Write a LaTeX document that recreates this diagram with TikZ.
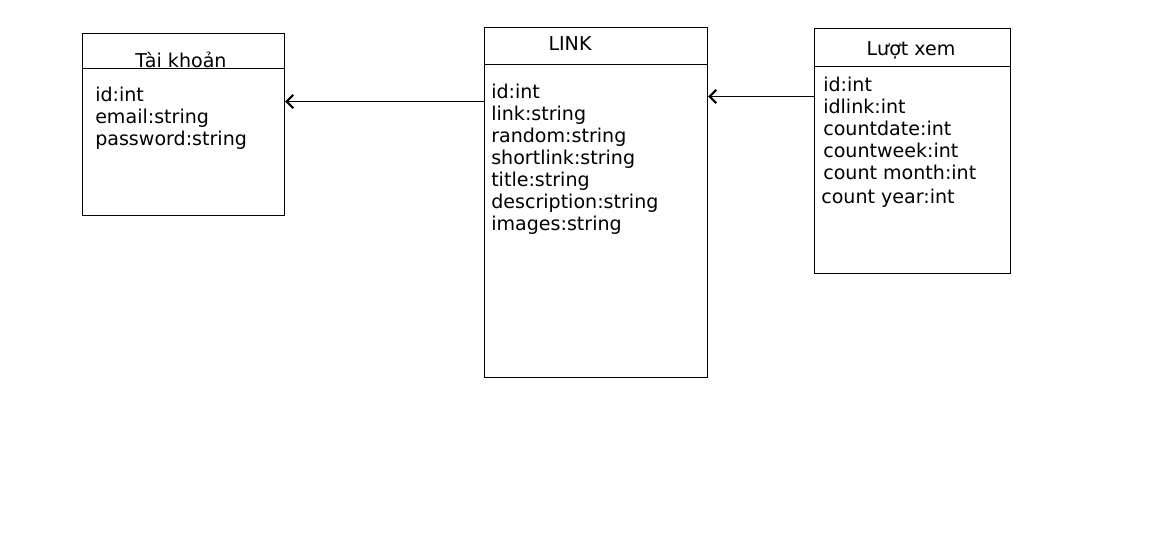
\documentclass[tikz,border=0pt]{standalone}
\usepackage{fontspec}
\setmainfont{DejaVu Sans}
\usetikzlibrary{arrows.meta, positioning, calc}

\begin{document}
\begin{tikzpicture}[x=0.75pt, y=-0.75pt,
        every node/.style={font=\fontsize{14.3}{16.5}\selectfont},
        ent/.style={draw, line width=0.75pt, anchor=north west, inner sep=0},
        ttl/.style={anchor=base, inner sep=0},
        fld/.style={anchor=north west, align=left, inner sep=0},
        sep/.style={line width=0.75pt},
        arr/.style={-{Straight Barb[length=5pt, width=10pt, line width=1.6pt]}, line width=0.9pt}
    ]
    \useasboundingbox (0,0) rectangle (1173,550);

    % Tables
    \node[ent, minimum width=151.5pt, minimum height=136.5pt] (tk) at (82,33) {};
    \node[ent, minimum width=167.25pt, minimum height=262.5pt] (link) at (484,27) {};
    \node[ent, minimum width=147pt, minimum height=183.75pt] (lx) at (814,28) {};

    % Header lines
    \draw[sep] (tk.west |- 0,68) -- (tk.east |- 0,68);
    \draw[sep] (link.west |- 0,64) -- (link.east |- 0,64);
    \draw[sep] (lx.west |- 0,66) -- (lx.east |- 0,66);

    % Titles
    \node[ttl] (tkt) at (181,67.5) {Tài khoản};
    \node[ttl] (linkt) at (570,50) {LINK};
    \node[ttl] (lxt) at (911,55) {Lượt xem};

    % Fields
    \node[fld] (tkf) at (95,86.7) {id:int\\email:string\\password:string};
    \node[fld] (linkf) at (491,83.3) {id:int\\link:string\\random:string\\shortlink:string\\title:string\\description:string\\images:string};
    \node[fld] (lxf) at (823,76.7) {id:int\\idlink:int\\countdate:int\\countweek:int\\count month:int\\[1.5pt]\hspace*{-1.5pt}count year:int};

    % Arrows
    \draw[arr] (link.west |- 0,101.5) -- (tk.east |- 0,101.5);
    \draw[arr] (lx.west |- 0,96.5) -- (link.east |- 0,96.5);
\end{tikzpicture}
\end{document}
